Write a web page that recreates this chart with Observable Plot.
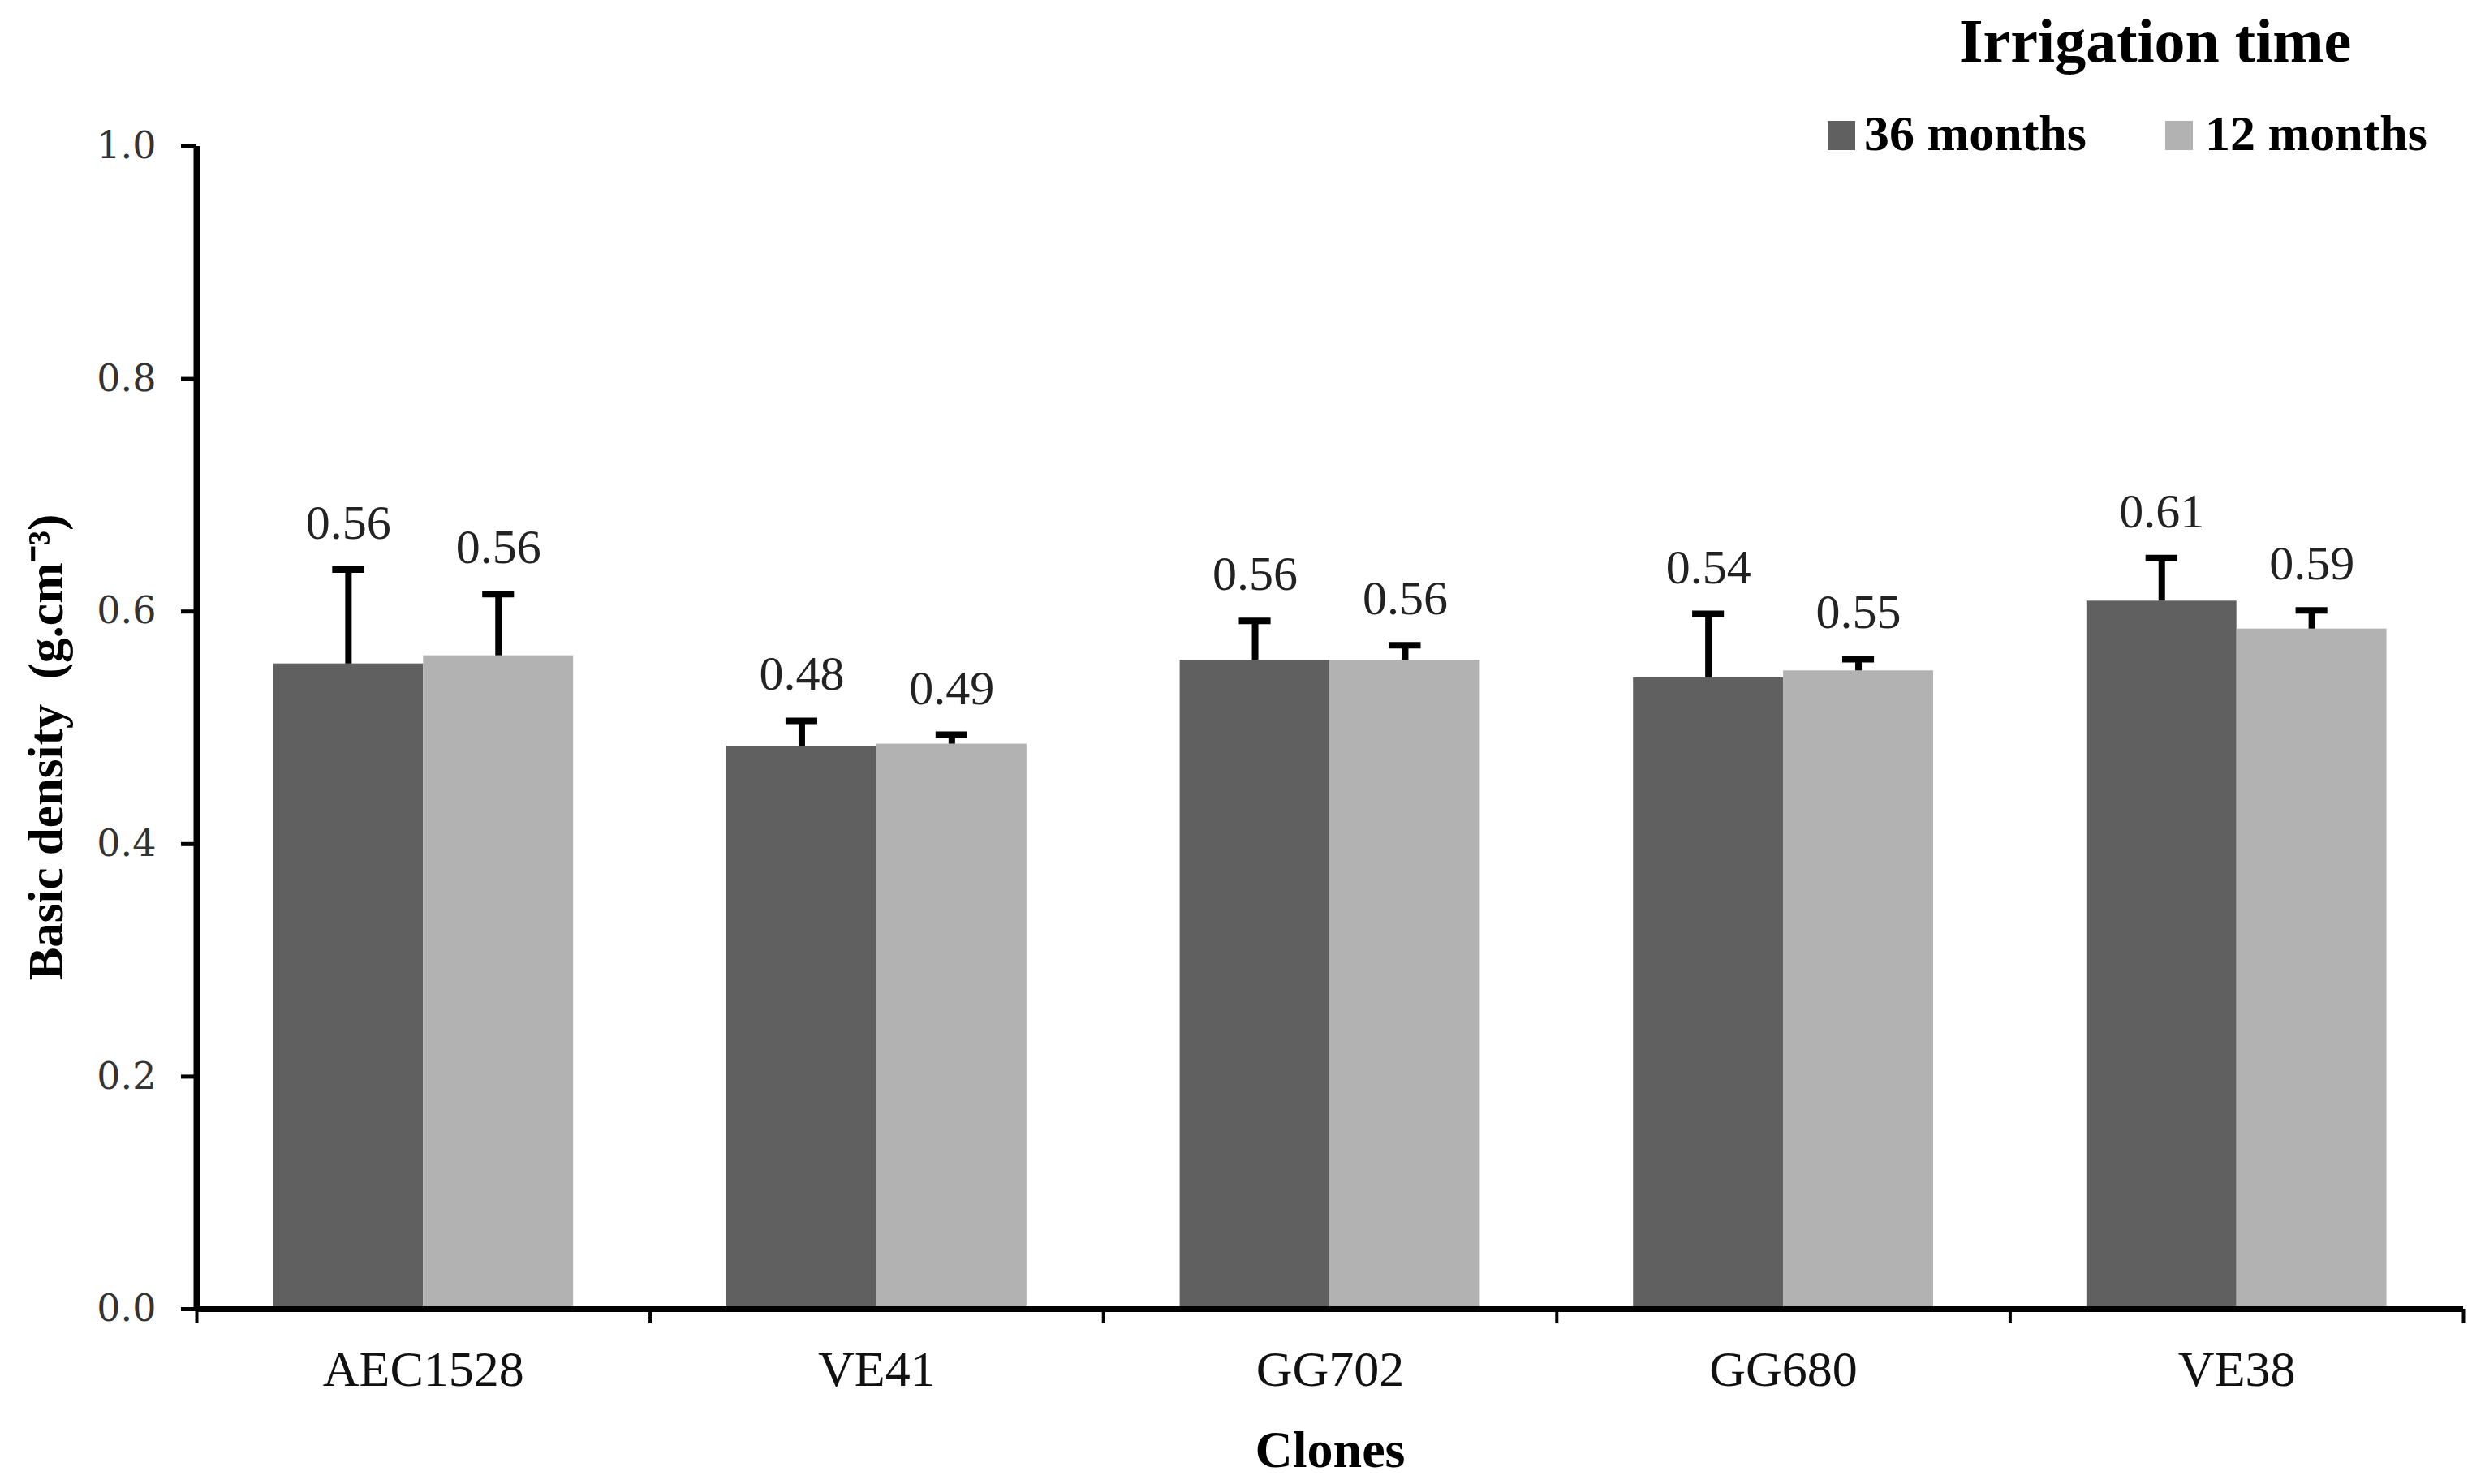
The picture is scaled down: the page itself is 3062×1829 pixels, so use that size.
<!DOCTYPE html>
<html>
<head>
<meta charset="utf-8">
<script src="https://cdn.jsdelivr.net/npm/d3@7"></script>
<script src="https://cdn.jsdelivr.net/npm/@observablehq/plot@0.6"></script>
<style>
  html, body { margin: 0; padding: 0; background: #fff; overflow: hidden; }
  #wrap { position: relative; width: 3062px; height: 1829px; font-family: "Liberation Serif", "Times New Roman", serif; }
  #legend-title { position: absolute; left: 2414px; width: 478px; top: 12px; font-size: 76px; line-height: 76px; font-weight: bold; text-align: center; color: #000; white-space: nowrap; }
  .sw { position: absolute; width: 34px; height: 36px; top: 149px; }
  .lt { position: absolute; top: 133px; font-size: 62px; line-height: 62px; font-weight: bold; color: #000; white-space: nowrap; }
</style>
</head>
<body>
<div id="wrap">
  <div id="chart"></div>
  <div id="legend-title">Irrigation time</div>
  <div class="sw" id="sw0" style="left:2252px;"></div>
  <div class="lt" id="lt0" style="left:2297px;"></div>
  <div class="sw" id="sw1" style="left:2668px;"></div>
  <div class="lt" id="lt1" style="left:2717px;"></div>
</div>
<script>
// ---- data ----
const clones = ["AEC1528", "VE41", "GG702", "GG680", "VE38"];
const series = ["36 months", "12 months"];
const density36 = [0.555, 0.484, 0.558, 0.543, 0.609];
const density12 = [0.562, 0.486, 0.558, 0.549, 0.585];
const error36 = [0.081, 0.022, 0.034, 0.055, 0.037];
const error12 = [0.053, 0.008, 0.013, 0.010, 0.016];
const labels36 = ["0.56", "0.48", "0.56", "0.54", "0.61"];
const labels12 = ["0.56", "0.49", "0.56", "0.55", "0.59"];
const yTicks = [0, 0.2, 0.4, 0.6, 0.8, 1.0];
const colors = ["#606060", "#b2b2b2"];

// ---- table ----
const barW = 0.331;
const rows = [];
clones.forEach((c, i) => {
  [[density36, error36, labels36], [density12, error12, labels12]].forEach(([v, e, l], j) => {
    const xc = i + 0.5 + (j === 0 ? -barW / 2 : barW / 2);
    rows.push({clone: c, series: series[j], xc, x1: xc - barW / 2, x2: xc + barW / 2,
               value: v[i], err: e[i], top: v[i] + e[i], label: l[i]});
  });
});
const boundaries = d3.range(clones.length + 1);
const centers = clones.map((c, i) => i + 0.5);

const chart = Plot.plot({
  width: 3062,
  height: 1829,
  marginLeft: 242,
  marginRight: 27,
  marginTop: 180,
  marginBottom: 216,
  style: {fontFamily: "Liberation Serif, Times New Roman, serif", background: "white", color: "#000"},
  x: {domain: [0, clones.length], axis: null},
  y: {domain: [0, 1], axis: null},
  color: {domain: series, range: colors},
  marks: [
    Plot.rectY(rows, {x1: "x1", x2: "x2", y1: 0, y2: "value", fill: "series"}),
    Plot.ruleX(rows, {x: "xc", y1: "value", y2: "top", stroke: "#000", strokeWidth: 8}),
    Plot.ruleY(rows, {y: "top", x1: d => d.xc - 0.035, x2: d => d.xc + 0.035, stroke: "#000", strokeWidth: 8}),
    Plot.text(rows, {x: "xc", y: "top", text: "label", lineAnchor: "bottom", dy: -38, fontSize: 60, fill: "#222"}),
    Plot.axisY({ticks: yTicks, tickFormat: d3.format(".1f"), tickSize: 19, tickPadding: 31,
                fontSize: 46, fontFamily: "DejaVu Serif", fill: "#333", strokeWidth: 5, label: null}),
    Plot.axisX({ticks: centers, tickFormat: d => clones[Math.floor(d)], tickSize: 0, tickPadding: 50,
                fontSize: 62, fill: "#111", label: null}),
    Plot.axisX({ticks: boundaries, tickFormat: () => "", tickSize: 18, strokeWidth: 4, label: null}),
    Plot.ruleX([0], {y1: 0, y2: 1, stroke: "#000", strokeWidth: 8}),
    Plot.ruleY([0], {stroke: "#000", strokeWidth: 7}),
    Plot.text(["Basic density  (g.cm⁻³)"], {frameAnchor: "left", rotate: -90, dx: -185, dy: 24,
               textAnchor: "middle", lineAnchor: "middle", fontSize: 61, fontWeight: "bold", fill: "#000"}),
    Plot.text(["Clones"], {frameAnchor: "bottom", dy: 174, textAnchor: "middle", lineAnchor: "middle",
               fontSize: 64, fontWeight: "bold", fill: "#000"})
  ]
});
document.getElementById("chart").appendChild(chart);

// legend
series.forEach((s, j) => {
  document.getElementById("sw" + j).style.background = colors[j];
  document.getElementById("lt" + j).textContent = s;
});
</script>
</body>
</html>
